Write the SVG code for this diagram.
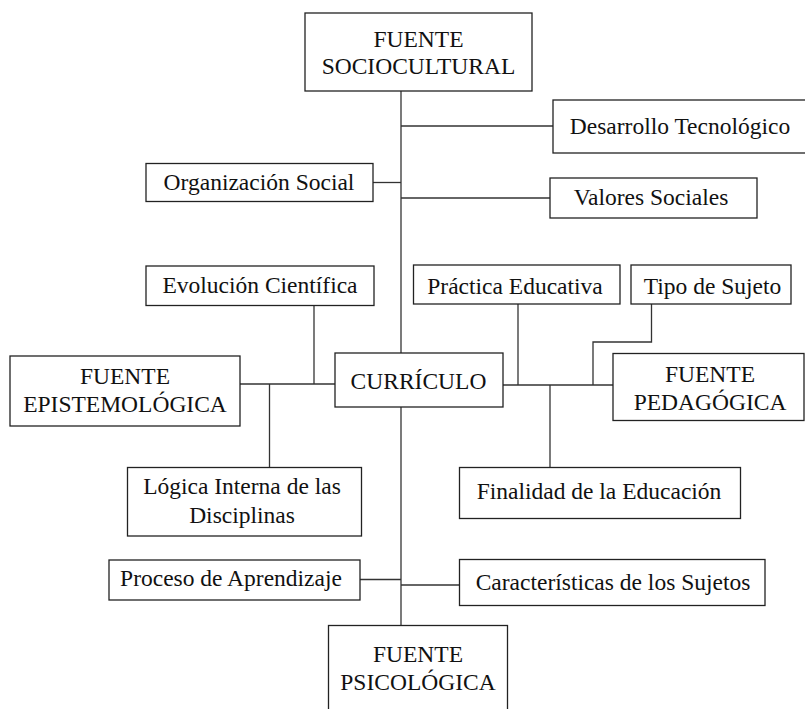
<svg xmlns="http://www.w3.org/2000/svg" width="805" height="709" viewBox="0 0 805 709">
<style>
rect{fill:#fff;stroke:#222;stroke-width:1.3}
#connectors line,#connectors polyline{stroke:#333;stroke-width:1.3;fill:none}
text{font-family:"Liberation Serif","Times New Roman",serif;font-size:23.5px;fill:#111;text-anchor:middle}
</style>
<rect x="0" y="0" width="805" height="709" style="stroke:none"/>
<g id="connectors">
<line x1="401" y1="91" x2="401" y2="353"/>
<line x1="401" y1="407" x2="401" y2="625"/>
<line x1="401" y1="126" x2="553" y2="126"/>
<line x1="373" y1="182.5" x2="401" y2="182.5"/>
<line x1="401" y1="198" x2="550" y2="198"/>
<line x1="240" y1="384" x2="335" y2="384"/>
<line x1="314" y1="305" x2="314" y2="384"/>
<line x1="269.5" y1="384" x2="269.5" y2="467"/>
<line x1="503" y1="385" x2="613" y2="385"/>
<line x1="518" y1="304" x2="518" y2="385"/>
<line x1="550" y1="385" x2="550" y2="467"/>
<polyline points="651.5,304 651.5,342 593,342 593,385"/>
<line x1="360" y1="579.5" x2="401" y2="579.5"/>
<line x1="401" y1="585" x2="459" y2="585"/>
</g>
<g id="fuente-sociocultural"><rect x="305" y="13" width="227" height="78"/><text x="418.5" y="47">FUENTE</text><text x="418.5" y="74">SOCIOCULTURAL</text></g>
<g id="desarrollo-tecnologico"><rect x="553" y="100" width="260" height="53"/><text x="680" y="133.5">Desarrollo Tecnológico</text></g>
<g id="organizacion-social"><rect x="146" y="163.5" width="227" height="38"/><text x="259" y="190">Organización Social</text></g>
<g id="valores-sociales"><rect x="550" y="178" width="207" height="40"/><text x="651" y="205">Valores Sociales</text></g>
<g id="evolucion-cientifica"><rect x="146" y="266" width="228" height="39.5"/><text x="260" y="293">Evolución Científica</text></g>
<g id="practica-educativa"><rect x="413.5" y="265" width="206.5" height="39"/><text x="515" y="293.5">Práctica Educativa</text></g>
<g id="tipo-de-sujeto"><rect x="631" y="265" width="160" height="39"/><text x="712.5" y="293.5">Tipo de Sujeto</text></g>
<g id="fuente-epistemologica"><rect x="10" y="356" width="230" height="70"/><text x="125" y="384">FUENTE</text><text x="125" y="412">EPISTEMOLÓGICA</text></g>
<g id="curriculo"><rect x="335" y="353" width="168" height="54"/><text x="418.5" y="388.5">CURRÍCULO</text></g>
<g id="fuente-pedagogica"><rect x="613" y="353.5" width="191" height="67"/><text x="710" y="382">FUENTE</text><text x="710" y="409.5">PEDAGÓGICA</text></g>
<g id="logica-interna"><rect x="127.5" y="467.5" width="234" height="68.5"/><text x="242" y="493.5">Lógica Interna de las</text><text x="242" y="523">Disciplinas</text></g>
<g id="finalidad-educacion"><rect x="459.5" y="467.5" width="281" height="51"/><text x="599" y="499">Finalidad de la Educación</text></g>
<g id="proceso-aprendizaje"><rect x="109" y="560" width="251" height="40"/><text x="231" y="586">Proceso de Aprendizaje</text></g>
<g id="caracteristicas-sujetos"><rect x="459.5" y="559.5" width="305.5" height="46"/><text x="613" y="589.5">Características de los Sujetos</text></g>
<g id="fuente-psicologica"><rect x="328.5" y="625.5" width="179" height="100"/><text x="418" y="662">FUENTE</text><text x="418" y="690">PSICOLÓGICA</text></g>
</svg>
